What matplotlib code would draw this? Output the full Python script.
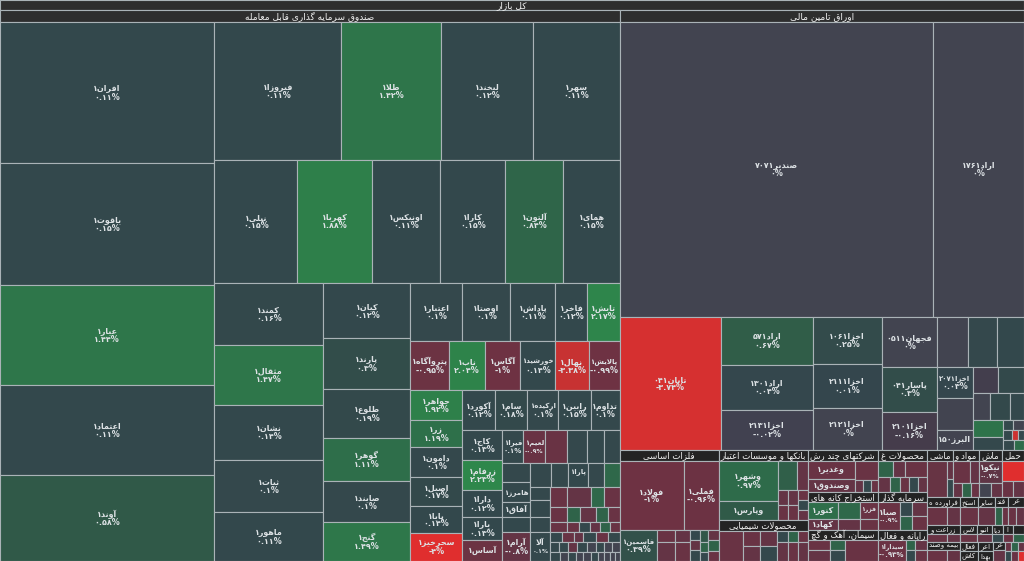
import matplotlib
matplotlib.use("Agg")
import matplotlib.pyplot as plt
from matplotlib.patches import Rectangle

# ---- data (values = relative market value, i.e. tile area) ----
market_title = "کل بازار"
market_hdr = 102.4

# funds group
funds_title = "صندوق سرمایه گذاری قابل معامله"
funds_hdr = 74.3
f1_names = ["افران۱", "یاقوت۱", "عیار۱", "اعتماد۱", "آوند۱"]
f1_val = [301.7, 261.1, 214.0, 192.6, 184.0]
f1_chg = [0.11, 0.15, 1.44, 0.11, 0.58]
fr1_names = ["فیروزا۱", "طلا۱", "لبخند۱", "سهر۱"]
fr1_val = [175.3, 138.0, 127.0, 118.7]
fr1_chg = [0.11, 1.42, 0.12, 0.11]
fr2_names = ["نیلی۱", "کهربا۱", "اونیکس۱", "کارا۱", "آلتون۱", "همای۱"]
fr2_val = [102.1, 92.3, 83.6, 80.0, 71.3, 68.9]
fr2_chg = [0.15, 1.88, 0.11, 0.15, 0.84, 0.15]
fa_names = ["کمند۱", "مثقال۱", "نشان۱", "ثبات۱", "ماهور۱"]
fa_val = [67.6, 65.4, 60.0, 56.7, 53.4]
fa_chg = [0.16, 1.47, 0.14, 0.1, 0.11]
fb_names = ["کیان۱", "پارند۱", "طلوع۱", "گوهر۱", "صایند۱", "گنج۱"]
fb_val = [47.9, 44.4, 42.6, 37.4, 35.7, 33.9]
fb_chg = [0.12, 0.3, 0.19, 1.11, 0.1, 1.49]
fc1_names = ["اعتبار۱", "اوصتا۱", "پاداش۱", "فاخر۱", "تابش۱"]
fc1_val = [30.2, 27.8, 26.1, 18.6, 18.6]
fc1_chg = [0.1, 0.1, 0.11, 0.12, 2.17]
fc2_names = ["پتروآگاه۱", "ناب۱", "آگاس۱", "خورشید۱", "نهال۱", "پالایش۱"]
fc2_val = [19.1, 17.6, 17.2, 17.2, 16.2, 15.2]
fc2_chg = [-0.95, 2.04, -1.0, 0.14, -3.38, -0.99]
fc3_names = ["جواهر۱", "زر۱", "دامون۱", "اصیل۱", "پایا۱", "سحرخیز۱"]
fc3_val = [15.6, 14.0, 15.6, 15.1, 14.0, 14.6]
fc3_chg = [1.92, 1.19, 0.1, 0.17, 0.14, -4.0]
fd0_names = ["آکورد۱", "سام۱", "ارکیده۱", "رابین۱", "تداوم۱"]
fd0_val = [13.2, 12.8, 12.4, 12.8, 11.6]
fd0_chg = [0.12, 0.18, 0.1, 0.15, 0.1]
fd1_names = ["کاج۱", "زرفام۱", "دارا۱", "یارا۱", "آساس۱"]
fd1_val = [12.0, 12.0, 10.8, 9.2, 8.4]
fd1_chg = [0.13, 2.23, 0.12, 0.13, -0.95]
fd2_names = ["فیرا۱", "لعیم۱", "", "", "", ""]
fd2_val = [6.9, 7.3, 7.3, 6.6, 5.3, 5.3]
fd2_chg = [0.1, -0.9, -0.9, 0.1, 0.12, 0.1]
fd3_names = ["", "هامرز۱", "آفاق۱", "", "آرام۱"]
fd3_val = [5.3, 5.6, 4.2, 4.2, 8.1]
fd3_chg = [0.1, 0.1, 0.1, 0.12, -0.8]
fd4_names = ["", "", "پارا۱", "", ""]
fd4_val = [4.8, 4.1, 4.8, 3.8, 3.8]
fd4_chg = [0.1, 0.1, 0.12, 0.1, 0.9]
fd5_names = ["", "مانی۱", "", "آلا"]
fd5_val = [2.6, 3.4, 3.0, 5.8]
fd5_chg = [0.1, 0.1, 0.1, 0.1]
fd6_val = [[3.4, 4.6, 2.6, 3.2],
           [2.55, 1.95, 2.25, 1.8, 1.8],
           [1.7, 1.2, 1.0, 1.0, 1.0, 1.0],
           [1.2, 1.2, 0.9, 1.2, 1.2, 1.2],
           [0.9, 0.9, 0.9, 0.9, 0.9, 0.8, 0.8, 0.8],
           [0.9, 0.72, 0.72, 0.63, 0.63, 0.63, 0.54, 0.54, 0.45, 0.45]]
fd6_chg = [[-0.9, -0.8, 0.9, -0.9],
           [-0.9, 0.8, -0.8, 0.8, -0.9],
           [-0.9, -0.9, 0.1, -0.8, 0.8, -0.9],
           [0.1, -0.9, -0.8, 0.1, -0.9, 0.1],
           [0.1, 0.1, -0.8, 0.1, 0, 0.1, 0, 0],
           [0.1, 0, 0.1, 0, 0, 0.1, 0, 0, 0, 0]]

# bonds group
bonds_title = "اوراق تامین مالی"
bonds_hdr = 48.5
bt_names = ["صندیر۷۰۷۱", "اراد۱۷۶۱"]
bt_val = [923.4, 268.5]
bt_chg = [0, 0]
bbig_name, bbig_val, bbig_chg = "تابان۰۴۱", 134.3, -3.74
bc2_names = ["اراد۵۷۱", "اراد۱۳۰۱", "اخزا۲۱۳۱"]
bc2_val = [44.2, 41.4, 36.8]
bc2_chg = [0.67, 0.04, -0.02]
bc3_names = ["اخزا۱۰۶۱", "اخزا۲۱۱۱", "اخزا۲۱۲۱"]
bc3_val = [32.4, 30.4, 29.0]
bc3_chg = [0.25, 0.01, 0]
bc4_names = ["فجهان۰۵۱۱", "پاسار۰۴۱", "اخزا۲۱۰۱"]
bc4_val = [27.5, 24.8, 20.9]
bc4_chg = [0, 0.3, -0.16]
b5a_val = [15.5, 14.5, 13.5]
b5a_chg = [0, 0.1, 0.15]
b5b_names = ["اخزا۲۰۷۱", "", "البرز۱۵۰"]
b5b_val = [11.2, 11.5, 7.2]
b5b_chg = [0.03, 0, 0]
b5c_val = [[6.5, 6.8], [4.6, 5.4, 3.8]]
b5c_chg = [[-0.1, 0.2], [0, 0.2, 0.15]]
b5d_val = [5.1, 3.9]
b5d_chg = [1.3, 0.1]
b5e_val = [[1.0, 1.1], [0.9, 0.6, 0.6], [1.1, 1.0]]
b5e_chg = [[0.1, 0], [0.1, -3.5, 0.1], [0.1, 1.0]]

# industries
met_title, met_hdr = "فلزات اساسی", 10.9
met_names = ["فولاد۱", "فملی۱"]
met_val = [44.2, 24.2]
met_chg = [-1.0, -0.96]
met_b_name, met_b_val, met_b_chg = "فاسمین۱", 11.5, 0.39
met_s_val = [[2.2, 3.4], [1.8, 2.9], [1.0, 1.0, 1.1], [1.0, 0.8, 0.7], [1.1, 1.2, 1.1]]
met_s_chg = [[-0.9, -0.8], [-0.8, -0.9], [0.1, -0.8, 0.1], [0.5, 0.8, 0.1], [-0.8, 0.8, -0.9]]

bank_title, bank_hdr = "بانکها و موسسات اعتباری", 9.8
bank_names = ["وشهر۱", "وپارس۱"]
bank_val = [23.6, 11.2]
bank_chg = [0.97, 0.6]
bank_r1_val = [5.5, 3.2]
bank_r1_chg = [0.7, -0.8]
bank_r2_val = [[1.5, 1.5], [1.5, 1.5], [1.0, 1.0, 1.0]]
bank_r2_chg = [[-0.8, -0.9], [-0.8, -0.9], [-0.9, 0.1, -0.8]]

chem_title, chem_hdr = "محصولات شیمیایی", 9.8
chem_val = [7.2, [2.55, 2.55], [2.55, 2.55]]
chem_chg = [-0.9, [-0.9, -0.8], [-0.8, 0.1]]
chem_r_val = [[1.2, 1.1, 1.1], [2.1, 1.9, 1.9]]
chem_r_chg = [[0.1, 0.8, -0.9], [-0.8, -0.9, -0.8]]

multi_title, multi_hdr = "شرکتهای چند رشته ای صنعتی", 7.7
multi_names = ["وغدیر۱", "وصندوق۱"]
multi_val = [8.5, 6.1]
multi_chg = [-0.9, -0.8]
multi_b_val = [4.4, [1.0, 1.0, 0.8]]
multi_b_chg = [-0.9, [-0.8, 0.1, -0.9]]

mine_title, mine_hdr = "استخراج کانه های فلزی", 7.0
mine_names = [["کنور۱", "کهاد۱"], ["", ""], ["فزر۱", ""]]
mine_val = [[5.1, 3.3], [3.7, 2.4], [3.1, 2.0]]
mine_chg = [[1.1, -0.8], [0.9, -0.8], [-0.9, -0.9]]

cem_title, cem_hdr = "سیمان، آهک و گچ", 7.0
cem_val = [[2.2, 2.4], [1.5, 1.65], 6.9]
cem_chg = [[-0.9, -0.8], [0.8, 0.1], -0.9]

food_title, food_hdr = "محصولات غذایی و آشامیدنی", 5.4
food_val = [[2.4, 1.9, 3.5], [1.8, 1.5, 1.35, 1.35, 1.35]]
food_chg = [[0.8, -0.8, -0.9], [-0.8, 0.8, -0.9, 0.1, -0.8]]

inv_title, inv_hdr = "سرمایه گذاریها", 4.9
inv_names = ["صبا۱", ["", ""], ["", ""]]
inv_val = [6.2, [1.7, 1.7], [2.1, 2.1]]
inv_chg = [-0.9, [0.1, 0.8], [-0.8, -0.9]]

comp_title, comp_hdr = "رایانه و فعالیتهای وابسته به آن", 4.9
comp_names = ["سیدارا۱", ["", ""], ["", ""]]
comp_val = [5.9, [0.9, 1.0], [1.2, 1.3]]
comp_chg = [-0.93, [0.8, 0.1], [-0.8, -0.9]]

top4_titles = ["ماشین آلات و تجهیزات", "مواد و محصولات دارویی",
               "ماشین آلات و دستگاههای برقی", "حمل و نقل، انبارداری و ارتباطات"]
top4_hdr = [2.9, 2.9, 2.5, 2.4]
top4_names = [["", ["", ""]], [["", ""], ["", "", ""]], ["نیکو۱", ["", ""]], ["", ["", ""]]]
top4_val = [[7.2, [1.1, 1.1]], [[3.7, 2.0], [1.3, 1.3, 1.1]], [5.1, [1.7, 1.5]], [4.4, [1.8, 1.8]]]
top4_chg = [[-0.85, [-0.8, 0.1]], [[-0.9, -0.8], [-0.8, 0.8, -0.9]], [-0.7, [0, -0.8]], [-4.0, [-0.9, -0.8]]]
top4_axis = ["x", "y", "y", "y"]

b1_titles = ["فراورده های نفتی، کک و سوخت هسته ای", "استخراج نفت گاز و خدمات جنبی",
             "سایر واسطه گریهای مالی", "قند و شکر", "عرضه برق، گاز، بخاروآب گرم"]
b1_hdr = [3.3, 1.8, 1.7, 1.3, 1.6]
b1_val = [[3.6, 2.3], [3.2], [3.1], [1.3, 1.1], [1.4, 1.4]]
b1_chg = [[-0.9, -0.8], [-0.9], [-0.8], [0.8, -0.9], [-0.9, -0.8]]

b2_titles = ["زراعت و خدمات وابسته", "لاستیک و پلاستیک", "انبوه سازی، املاک و مستغلات",
             "دباغی، پرداخت چرم", "اطلاعات و ارتباطات", "صنایع چوب"]
b2_hdr = [3.0, 1.6, 1.3, 1.0, 0.9, 1.0]
b2_val = [[1.6, 1.0], [1.4], [1.1], [0.9], [0.8], [0.9]]
b2_chg = [[-0.9, -0.8], [-0.9], [-0.8], [0.1], [-0.9], [0.8]]

ins_title, ins_hdr = "بیمه وصندوق بازنشستگی", 2.6
ins_val = [2.2, 1.5]
ins_chg = [-0.9, -0.8]
b3_titles = [["فعالیتهای کمکی به نهادهای مالی", "کاشی و سرامیک"], ["اعرضه", "بهداشت و درمان"]]
b3_hdr = [[1.7, 1.7], [1.4, 1.45]]
elec2_title, elec2_hdr = "عرضه", 1.0
elec2_val, elec2_chg = [1.3], [-0.8]
b3_tiny_val = [[0.6, 0.6, 0.6], [0.6, 0.6, 0.6]]
b3_tiny_chg = [[-0.9, 0.8, -0.8], [0.1, -0.9, -4.0]]

# ---- styling ----
EDGE = "#aab3b7"
LBL = "#dde2e5"
HDR_FG = "#f2f2f2"
HDR_BG = {"top": "#2e2e2e", "sec": "#232323", "tiny": "#232323"}
HDR_FS = {"top": 6.5, "sec": 6.2, "tiny": 5.0}
POS = [(0.0, (52, 70, 77)), (0.2, (51, 73, 75)), (0.6, (48, 90, 72)),
       (1.0, (46, 108, 74)), (2.0, (46, 130, 74)), (3.0, (48, 150, 78))]
NEG = [(0.0, (64, 66, 81)), (0.2, (70, 58, 73)), (1.0, (110, 50, 67)),
       (2.0, (150, 50, 58)), (3.4, (200, 50, 50)), (4.0, (224, 46, 46))]
ZERO = (66, 68, 80)


def tile_color(c):
    if c == 0:
        rgb = ZERO
    else:
        stops = POS if c > 0 else NEG
        a = min(abs(c), stops[-1][0])
        rgb = stops[-1][1]
        for (v0, c0), (v1, c1) in zip(stops[:-1], stops[1:]):
            if v0 <= a <= v1:
                t = (a - v0) / (v1 - v0)
                rgb = tuple(p + (q - p) * t for p, q in zip(c0, c1))
                break
    return tuple(v / 255 for v in rgb)


# ---- persian shaping (matplotlib has no arabic text layout) ----
DUAL = {
    "ب": "\ufe8f\ufe90\ufe91\ufe92", "پ": "\ufb56\ufb57\ufb58\ufb59",
    "ت": "\ufe95\ufe96\ufe97\ufe98", "ث": "\ufe99\ufe9a\ufe9b\ufe9c",
    "ج": "\ufe9d\ufe9e\ufe9f\ufea0", "چ": "\ufb7a\ufb7b\ufb7c\ufb7d",
    "ح": "\ufea1\ufea2\ufea3\ufea4", "خ": "\ufea5\ufea6\ufea7\ufea8",
    "س": "\ufeb1\ufeb2\ufeb3\ufeb4", "ش": "\ufeb5\ufeb6\ufeb7\ufeb8",
    "ص": "\ufeb9\ufeba\ufebb\ufebc", "ض": "\ufebd\ufebe\ufebf\ufec0",
    "ط": "\ufec1\ufec2\ufec3\ufec4", "ظ": "\ufec5\ufec6\ufec7\ufec8",
    "ع": "\ufec9\ufeca\ufecb\ufecc", "غ": "\ufecd\ufece\ufecf\ufed0",
    "ف": "\ufed1\ufed2\ufed3\ufed4", "ق": "\ufed5\ufed6\ufed7\ufed8",
    "\u06a9": "\ufb8e\ufb8f\ufb90\ufb91", "گ": "\ufb92\ufb93\ufb94\ufb95",
    "ل": "\ufedd\ufede\ufedf\ufee0", "م": "\ufee1\ufee2\ufee3\ufee4",
    "ن": "\ufee5\ufee6\ufee7\ufee8", "ه": "\ufee9\ufeea\ufeeb\ufeec",
    "\u06cc": "\ufbfc\ufbfd\ufbfe\ufbff", "ئ": "\ufe89\ufe8a\ufe8b\ufe8c",
}
RIGHT = {
    "ا": "\ufe8d\ufe8e", "آ": "\ufe81\ufe82", "د": "\ufea9\ufeaa",
    "ذ": "\ufeab\ufeac", "ر": "\ufead\ufeae", "ز": "\ufeaf\ufeb0",
    "ژ": "\ufb8a\ufb8b", "و": "\ufeed\ufeee",
}
LAM_ALEF = {"ا": "\ufefb\ufefc", "آ": "\ufef5\ufef6"}
LTR = set("0123456789۰۱۲۳۴۵۶۷۸۹.%-")


def shape(text):
    text = text.replace("\u064a", "\u06cc").replace("\u0643", "\u06a9")
    out = []
    i, n = 0, len(text)
    while i < n:
        c = text[i]
        prev = text[i - 1] if i > 0 else ""
        lp = prev in DUAL
        if c == "ل" and i + 1 < n and text[i + 1] in LAM_ALEF:
            out.append(LAM_ALEF[text[i + 1]][1 if lp else 0])
            i += 2
            continue
        nxt = text[i + 1] if i + 1 < n else ""
        if c in DUAL:
            ln = nxt in DUAL or nxt in RIGHT
            f = DUAL[c]
            out.append(f[3] if lp and ln else f[2] if ln else f[1] if lp else f[0])
        elif c in RIGHT:
            out.append(RIGHT[c][1 if lp else 0])
        else:
            out.append(c)
        i += 1
    runs = []
    for ch in out:
        l = ch in LTR
        if runs and runs[-1][0] == l:
            runs[-1][1].append(ch)
        else:
            runs.append([l, [ch]])
    return "".join("".join(r) if l else "".join(reversed(r)) for l, r in reversed(runs))


PD = str.maketrans("0123456789", "۰۱۲۳۴۵۶۷۸۹")


def pct(c):
    s = f"{c:.2f}".rstrip("0").rstrip(".")
    if s == "-0":
        s = "0"
    return (s + "%").translate(PD)


# ---- treemap structure ----
def leaves(names, vals, chgs):
    return [("leaf", n, v, c) for n, v, c in zip(names, vals, chgs)]


def row(axis, names, vals, chgs):
    return (axis, leaves(names, vals, chgs))


def nest(axis, vals, chgs, names=None):
    other = "y" if axis == "x" else "x"
    if names is None:
        names = [[""] * len(v) if isinstance(v, list) else "" for v in vals]
    kids = []
    for n, v, c in zip(names, vals, chgs):
        if isinstance(v, list):
            kids.append(row(other, n, v, c))
        else:
            kids.append(("leaf", n, v, c))
    return (axis, kids)


def group(title, hval, body, style="sec"):
    return ("y", [("hdr", title, hval, style), body])


def size(node):
    if node[0] in ("leaf", "hdr"):
        return node[2]
    return sum(size(k) for k in node[1])


funds = group(funds_title, funds_hdr, ("x", [
    row("y", f1_names, f1_val, f1_chg),
    ("y", [
        row("x", fr1_names, fr1_val, fr1_chg),
        row("x", fr2_names, fr2_val, fr2_chg),
        ("x", [
            row("y", fa_names, fa_val, fa_chg),
            row("y", fb_names, fb_val, fb_chg),
            ("y", [
                row("x", fc1_names, fc1_val, fc1_chg),
                row("x", fc2_names, fc2_val, fc2_chg),
                ("x", [
                    row("y", fc3_names, fc3_val, fc3_chg),
                    ("y", [
                        row("x", fd0_names, fd0_val, fd0_chg),
                        ("x", [
                            row("y", fd1_names, fd1_val, fd1_chg),
                            ("y", [
                                row("x", fd2_names, fd2_val, fd2_chg),
                                ("x", [
                                    row("y", fd3_names, fd3_val, fd3_chg),
                                    ("y", [
                                        row("x", fd4_names, fd4_val, fd4_chg),
                                        ("x", [
                                            row("y", fd5_names, fd5_val, fd5_chg),
                                            nest("y", fd6_val, fd6_chg),
                                        ]),
                                    ]),
                                ]),
                            ]),
                        ]),
                    ]),
                ]),
            ]),
        ]),
    ]),
]), "top")

bond_d = ("y", nest("y", b5c_val, b5c_chg)[1] + [
    ("x", [row("y", ["", ""], b5d_val, b5d_chg), nest("y", b5e_val, b5e_chg)])])
bonds = group(bonds_title, bonds_hdr, ("y", [
    row("x", bt_names, bt_val, bt_chg),
    ("x", [
        ("leaf", bbig_name, bbig_val, bbig_chg),
        row("y", bc2_names, bc2_val, bc2_chg),
        row("y", bc3_names, bc3_val, bc3_chg),
        row("y", bc4_names, bc4_val, bc4_chg),
        ("y", [
            row("x", ["", "", ""], b5a_val, b5a_chg),
            ("x", [row("y", b5b_names, b5b_val, b5b_chg), bond_d]),
        ]),
    ]),
]), "top")

metals = group(met_title, met_hdr, ("y", [
    row("x", met_names, met_val, met_chg),
    ("x", [("leaf", met_b_name, met_b_val, met_b_chg), nest("x", met_s_val, met_s_chg)]),
]))
banks = group(bank_title, bank_hdr, ("x", [
    row("y", bank_names, bank_val, bank_chg),
    ("y", [row("x", ["", ""], bank_r1_val, bank_r1_chg), nest("x", bank_r2_val, bank_r2_chg)]),
]))
chem = group(chem_title, chem_hdr, ("x", nest("x", chem_val, chem_chg)[1] + [nest("y", chem_r_val, chem_r_chg)]))
multi = group(multi_title, multi_hdr, ("x", [
    row("y", multi_names, multi_val, multi_chg), nest("y", multi_b_val, multi_b_chg)]))
mine = group(mine_title, mine_hdr, nest("x", mine_val, mine_chg, mine_names))
cem = group(cem_title, cem_hdr, nest("x", cem_val, cem_chg))
food = group(food_title, food_hdr, nest("y", food_val, food_chg))
inv = group(inv_title, inv_hdr, nest("x", inv_val, inv_chg, inv_names))
comp = group(comp_title, comp_hdr, nest("x", comp_val, comp_chg, comp_names))
top4 = [group(t, h, nest(a, v, c, n)) for t, h, v, c, n, a in
        zip(top4_titles, top4_hdr, top4_val, top4_chg, top4_names, top4_axis)]
b1 = [group(t, h, nest("x", v, c), "tiny") for t, h, v, c in zip(b1_titles, b1_hdr, b1_val, b1_chg)]
b2 = [group(t, h, nest("x", v, c), "tiny") for t, h, v, c in zip(b2_titles, b2_hdr, b2_val, b2_chg)]
b3 = [group(ins_title, ins_hdr, nest("x", ins_val, ins_chg), "tiny")]
b3 += [("y", [("hdr", t, h, "tiny") for t, h in zip(ts, hs)]) for ts, hs in zip(b3_titles, b3_hdr)]
b3 += [group(elec2_title, elec2_hdr, nest("x", elec2_val, elec2_chg), "tiny"),
       nest("y", b3_tiny_val, b3_tiny_chg)]

others = ("x", [
    metals,
    ("y", [banks, chem]),
    ("y", [multi, mine, cem]),
    ("y", [food, inv, comp]),
    ("y", [("x", top4), ("y", [("x", b1), ("x", b2), ("x", b3)])]),
])

market = ("y", [("hdr", market_title, market_hdr, "top"),
                ("x", [funds, ("y", [bonds, others])])])

# ---- drawing ----
W, H = 1024, 561
fig = plt.figure(figsize=(W / 100, H / 100), dpi=100, facecolor=EDGE)
ax = fig.add_axes([0, 0, 1, 1])
ax.set_xlim(0, W)
ax.set_ylim(H, 0)
ax.axis("off")
renderer = fig.canvas.get_renderer()


def divide(rect, sizes, axis):
    x0, y0, x1, y1 = rect
    total = sum(sizes)
    pos = x0 if axis == "x" else y0
    span = (x1 - x0) if axis == "x" else (y1 - y0)
    out = []
    for s in sizes:
        d = span * s / total
        out.append((pos, y0, pos + d, y1) if axis == "x" else (x0, pos, x1, pos + d))
        pos += d
    return out


def width_of(t):
    return t.get_window_extent(renderer).width


def put(x, y, s, maxw, sizes=(5.8, 5.0, 4.4)):
    # shrink the label until it fits in the tile
    for fs in sizes:
        t = ax.text(x, y, s, ha="center", va="center", fontsize=fs, color=LBL, fontweight="bold")
        if width_of(t) <= maxw - 2:
            return
        t.remove()


def draw_tile(r, name, chg):
    x0, y0, x1, y1 = r
    w, h = x1 - x0, y1 - y0
    ax.add_patch(Rectangle((x0, y0), w, h, facecolor=tile_color(chg), edgecolor=EDGE, linewidth=0.8))
    if not name or w < 12 or h < 8:
        return
    cx, cy = (x0 + x1) / 2, (y0 + y1) / 2
    if h >= 21:
        put(cx, cy - 4, shape(name), w)
        put(cx, cy + 4.5, pct(chg), w)
    else:
        put(cx, cy, shape(name), w)


def draw_header(r, title, style):
    x0, y0, x1, y1 = r
    ax.add_patch(Rectangle((x0, y0), x1 - x0, y1 - y0, facecolor=HDR_BG[style],
                           edgecolor=EDGE, linewidth=0.8))
    # cut the title from its (visual left) end until it fits the bar
    s = title
    while s:
        t = ax.text((x0 + x1) / 2, (y0 + y1) / 2 + 0.3, shape(s), ha="center", va="center",
                    fontsize=HDR_FS[style], color=HDR_FG)
        if width_of(t) <= (x1 - x0) - 3:
            return
        t.remove()
        s = s[:-1].rstrip()


def draw(node, rect):
    kind = node[0]
    if kind == "leaf":
        draw_tile(rect, node[1], node[3])
    elif kind == "hdr":
        draw_header(rect, node[1], node[3])
    else:
        kids = node[1]
        for k, r in zip(kids, divide(rect, [size(k) for k in kids], kind)):
            draw(k, r)


draw(market, (0, 0, W, H))
fig.savefig("out.png", dpi=100, facecolor=EDGE)
